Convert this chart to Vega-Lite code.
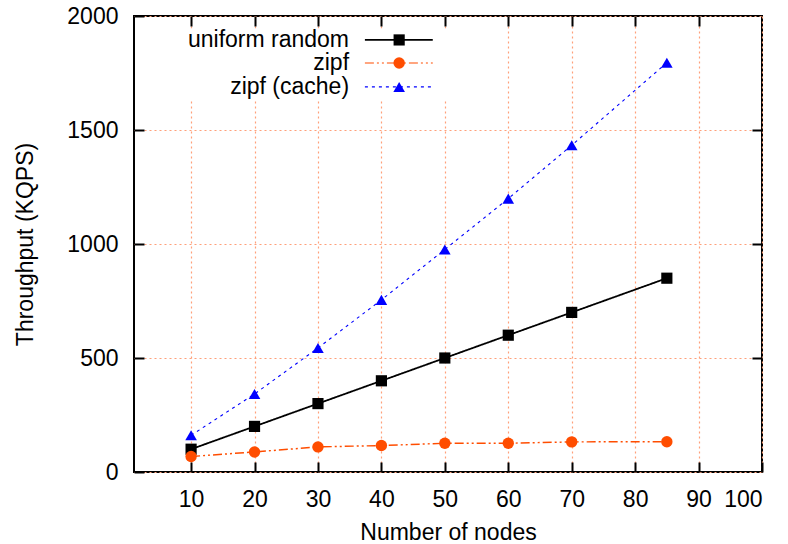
{
  "$schema": "https://vega.github.io/schema/vega-lite/v6.json",
  "width": 628,
  "height": 456,
  "autosize": "none",
  "padding": {"left": 134, "top": 16, "right": 26, "bottom": 72},
  "background": "white",
  "config": {
    "view": {"stroke": "black", "strokeWidth": 2},
    "font": "Liberation Sans",
    "axis": {
      "labelFont": "Liberation Sans",
      "titleFont": "Liberation Sans",
      "labelFontSize": 23,
      "titleFontSize": 23,
      "labelColor": "black",
      "titleColor": "black",
      "titleFontWeight": "normal",
      "tickColor": "black",
      "tickWidth": 2,
      "tickSize": -10,
      "domain": false,
      "gridColor": "#ffa07a",
      "gridDash": [2, 3],
      "gridWidth": 1.2,
      "gridOpacity": 1
    }
  },
  "data": {
    "values": [
      {"nodes": 10, "throughput": 100, "series": "uniform random"},
      {"nodes": 20, "throughput": 200, "series": "uniform random"},
      {"nodes": 30, "throughput": 300, "series": "uniform random"},
      {"nodes": 40, "throughput": 400, "series": "uniform random"},
      {"nodes": 50, "throughput": 500, "series": "uniform random"},
      {"nodes": 60, "throughput": 600, "series": "uniform random"},
      {"nodes": 70, "throughput": 700, "series": "uniform random"},
      {"nodes": 85, "throughput": 850, "series": "uniform random"},
      {"nodes": 10, "throughput": 68, "series": "zipf"},
      {"nodes": 20, "throughput": 88, "series": "zipf"},
      {"nodes": 30, "throughput": 110, "series": "zipf"},
      {"nodes": 40, "throughput": 116, "series": "zipf"},
      {"nodes": 50, "throughput": 126, "series": "zipf"},
      {"nodes": 60, "throughput": 126, "series": "zipf"},
      {"nodes": 70, "throughput": 132, "series": "zipf"},
      {"nodes": 85, "throughput": 133, "series": "zipf"},
      {"nodes": 10, "throughput": 161, "series": "zipf (cache)"},
      {"nodes": 20, "throughput": 342, "series": "zipf (cache)"},
      {"nodes": 30, "throughput": 544, "series": "zipf (cache)"},
      {"nodes": 40, "throughput": 755, "series": "zipf (cache)"},
      {"nodes": 50, "throughput": 976, "series": "zipf (cache)"},
      {"nodes": 60, "throughput": 1199, "series": "zipf (cache)"},
      {"nodes": 70, "throughput": 1433, "series": "zipf (cache)"},
      {"nodes": 85, "throughput": 1795, "series": "zipf (cache)"}
    ]
  },
  "resolve": {"axis": {"x": "independent", "y": "independent"}},
  "layer": [
    {
      "layer": [
        {
          "mark": {"type": "point", "opacity": 0},
          "encoding": {
            "x": {
              "field": "nodes", "type": "quantitative",
              "scale": {"domain": [1, 100], "nice": false, "zero": false},
              "axis": {"title": "Number of nodes", "values": [10, 20, 30, 40, 50, 60, 70, 80, 90, 100], "format": "d", "grid": true, "labelPadding": 26, "titlePadding": 10}
            },
            "y": {
              "field": "throughput", "type": "quantitative",
              "scale": {"domain": [0, 2000], "nice": false},
              "axis": {"title": "Throughput (KQPS)", "values": [0, 500, 1000, 1500, 2000], "format": "d", "grid": true, "labelPadding": 26, "titlePadding": 29}
            }
          }
        },
        {
          "data": {"values": [{}]},
          "mark": {"type": "rect", "color": "white"},
          "encoding": {
            "x": {"datum": 5, "type": "quantitative"},
            "x2": {"datum": 52},
            "y": {"datum": 1635, "type": "quantitative"},
            "y2": {"datum": 1945}
          }
        },
        {
          "mark": {"type": "line"},
          "encoding": {
            "x": {"field": "nodes", "type": "quantitative"},
            "y": {"field": "throughput", "type": "quantitative"},
            "color": {"field": "series", "type": "nominal", "legend": null,
              "scale": {"domain": ["uniform random", "zipf", "zipf (cache)"], "range": ["#000000", "#ff4d00", "#0000ff"]}},
            "strokeDash": {"field": "series", "type": "nominal", "legend": null,
              "scale": {"domain": ["uniform random", "zipf", "zipf (cache)"], "range": [[1, 0], [9, 3, 2, 3, 2, 3], [3, 4]]}},
            "strokeWidth": {"field": "series", "type": "nominal", "legend": null,
              "scale": {"domain": ["uniform random", "zipf", "zipf (cache)"], "range": [1.8, 1.1, 1.1]}}
          }
        },
        {
          "mark": {"type": "point", "filled": true, "opacity": 1},
          "encoding": {
            "x": {"field": "nodes", "type": "quantitative"},
            "y": {"field": "throughput", "type": "quantitative"},
            "color": {"field": "series", "type": "nominal", "legend": null},
            "shape": {"field": "series", "type": "nominal", "legend": null,
              "scale": {"domain": ["uniform random", "zipf", "zipf (cache)"], "range": ["square", "circle", "triangle-up"]}},
            "size": {"field": "series", "type": "nominal", "legend": null,
              "scale": {"domain": ["uniform random", "zipf", "zipf (cache)"], "range": [125, 135, 210]}}
          }
        },
        {
          "data": {"values": [{}]},
          "mark": {"type": "text", "align": "right", "baseline": "middle", "fontSize": 23, "font": "Liberation Sans", "fontWeight": "normal", "fill": "black"},
          "encoding": {"x": {"datum": 34.9, "type": "quantitative"}, "y": {"datum": 1895, "type": "quantitative"}, "text": {"value": "uniform random"}}
        },
        {
          "data": {"values": [{}]},
          "mark": {"type": "text", "align": "right", "baseline": "middle", "fontSize": 23, "font": "Liberation Sans", "fontWeight": "normal", "fill": "black"},
          "encoding": {"x": {"datum": 34.9, "type": "quantitative"}, "y": {"datum": 1794, "type": "quantitative"}, "text": {"value": "zipf"}}
        },
        {
          "data": {"values": [{}]},
          "mark": {"type": "text", "align": "right", "baseline": "middle", "fontSize": 23, "font": "Liberation Sans", "fontWeight": "normal", "fill": "black"},
          "encoding": {"x": {"datum": 34.9, "type": "quantitative"}, "y": {"datum": 1689, "type": "quantitative"}, "text": {"value": "zipf (cache)"}}
        },
        {
          "data": {"values": [{}]},
          "mark": {"type": "rule", "strokeWidth": 1.8},
          "encoding": {"x": {"datum": 37.4, "type": "quantitative"}, "x2": {"datum": 48.1}, "y": {"datum": 1895, "type": "quantitative"},
            "color": {"datum": "uniform random"}, "strokeDash": {"datum": "uniform random"}}
        },
        {
          "data": {"values": [{}]},
          "mark": {"type": "rule", "strokeWidth": 1.1},
          "encoding": {"x": {"datum": 37.4, "type": "quantitative"}, "x2": {"datum": 48.1}, "y": {"datum": 1794, "type": "quantitative"},
            "color": {"datum": "zipf"}, "strokeDash": {"datum": "zipf"}}
        },
        {
          "data": {"values": [{}]},
          "mark": {"type": "rule", "strokeWidth": 1.1},
          "encoding": {"x": {"datum": 37.4, "type": "quantitative"}, "x2": {"datum": 48.1}, "y": {"datum": 1689, "type": "quantitative"},
            "color": {"datum": "zipf (cache)"}, "strokeDash": {"datum": "zipf (cache)"}}
        },
        {
          "data": {"values": [{}]},
          "mark": {"type": "point", "filled": true, "opacity": 1},
          "encoding": {"x": {"datum": 42.8, "type": "quantitative"}, "y": {"datum": 1895, "type": "quantitative"},
            "color": {"datum": "uniform random"}, "shape": {"datum": "uniform random"}, "size": {"datum": "uniform random"}}
        },
        {
          "data": {"values": [{}]},
          "mark": {"type": "point", "filled": true, "opacity": 1},
          "encoding": {"x": {"datum": 42.8, "type": "quantitative"}, "y": {"datum": 1794, "type": "quantitative"},
            "color": {"datum": "zipf"}, "shape": {"datum": "zipf"}, "size": {"datum": "zipf"}}
        },
        {
          "data": {"values": [{}]},
          "mark": {"type": "point", "filled": true, "opacity": 1},
          "encoding": {"x": {"datum": 42.8, "type": "quantitative"}, "y": {"datum": 1689, "type": "quantitative"},
            "color": {"datum": "zipf (cache)"}, "shape": {"datum": "zipf (cache)"}, "size": {"datum": "zipf (cache)"}}
        }
      ]
    },
    {
      "mark": {"type": "point", "opacity": 0},
      "encoding": {
        "x": {"field": "nodes", "type": "quantitative",
          "axis": {"orient": "top", "title": null, "labels": false, "grid": false, "values": [10, 20, 30, 40, 50, 60, 70, 80, 90]}},
        "y": {"field": "throughput", "type": "quantitative",
          "axis": {"orient": "right", "title": null, "labels": false, "grid": false, "values": [500, 1000, 1500]}}
      }
    }
  ]
}
